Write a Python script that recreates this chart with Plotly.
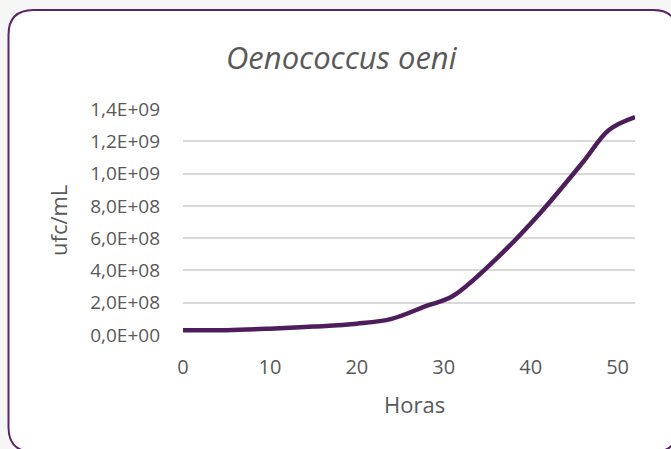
import plotly.graph_objects as go

# ---- data ----
horas = [0, 5, 10, 15, 20, 24, 28, 31, 36, 41, 46, 49, 52]
ufc = [3.0e7, 3.0e7, 3.9e7, 5.2e7, 7.0e7, 1.0e8, 1.8e8, 2.4e8, 4.7e8, 7.5e8, 1.07e9, 1.27e9, 1.35e9]
y_tickvals = [0, 2e8, 4e8, 6e8, 8e8, 1.0e9, 1.2e9, 1.4e9]
y_ticktext = ["0,0E+00", "2,0E+08", "4,0E+08", "6,0E+08", "8,0E+08", "1,0E+09", "1,2E+09", "1,4E+09"]
x_tickvals = [0, 10, 20, 30, 40, 50]
title_text = "Oenococcus oeni"
x_title = "Horas"
y_title = "ufc/mL"

# ---- layout geometry (pixels) ----
W, H = 671, 449
PL, PR, PT, PB = 183, 635, 109, 335
pw, ph = PR - PL, PB - PT

def px(x):
    return (x - PL) / pw

def py(y):
    return (PB - y) / ph

# rounded chart-area border
L, T, R, B, r = 8.5, 10, 678, 452, 25
path = (
    f"M {px(L + r)},{py(T)} L {px(R - r)},{py(T)} "
    f"Q {px(R)},{py(T)} {px(R)},{py(T + r)} "
    f"L {px(R)},{py(B - r)} Q {px(R)},{py(B)} {px(R - r)},{py(B)} "
    f"L {px(L + r)},{py(B)} Q {px(L)},{py(B)} {px(L)},{py(B - r)} "
    f"L {px(L)},{py(T + r)} Q {px(L)},{py(T)} {px(L + r)},{py(T)} Z"
)

FONT = "Open Sans"
GREY = "#595959"
PURPLE = "#4e1d5b"
BG = "#f6f6f7"

fig = go.Figure()
fig.add_trace(go.Scatter(
    x=horas, y=ufc, mode="lines",
    line=dict(color=PURPLE, width=4.5, shape="spline", smoothing=1.0),
    hoverinfo="skip", showlegend=False,
))

fig.update_layout(
    width=W, height=H,
    margin=dict(l=PL, r=W - PR, t=PT, b=H - PB, pad=0),
    paper_bgcolor=BG,
    plot_bgcolor="rgba(0,0,0,0)",
    font=dict(family=FONT, color=GREY, size=19),
    shapes=[dict(type="path", path=path, xref="paper", yref="paper",
                 fillcolor="white", line=dict(color="#5a2468", width=2), layer="below")],
    annotations=[
        dict(text=title_text, xref="paper", yref="paper", x=px(342), y=py(57),
             xanchor="center", yanchor="middle", showarrow=False,
             font=dict(family=FONT, size=31, color=GREY, style="italic")),
        dict(text=x_title, xref="paper", yref="paper", x=px(414), y=py(404),
             xanchor="center", yanchor="middle", showarrow=False,
             font=dict(family=FONT, size=22, color=GREY)),
        dict(text=y_title, xref="paper", yref="paper", x=px(58), y=py(221),
             xanchor="center", yanchor="middle", showarrow=False, textangle=-90,
             font=dict(family=FONT, size=22, color=GREY)),
    ],
)
fig.update_xaxes(
    range=[0, 52], tickvals=x_tickvals, showgrid=False, zeroline=False,
    showline=False, ticks="", ticklabelstandoff=18,
    tickfont=dict(family=FONT, size=20, color=GREY),
)
fig.update_yaxes(
    range=[0, 1.4e9], tickvals=y_tickvals, ticktext=y_ticktext,
    showgrid=True, gridcolor="#d9d9d9", gridwidth=1.5, zeroline=False,
    showline=False, ticks="", ticklabelstandoff=22,
    tickfont=dict(family=FONT, size=19, color=GREY),
)

fig.write_html(
    "out.html",
    config={"displayModeBar": False},
    post_script="document.body.style.margin='0';document.body.style.background='" + BG + "';",
)
